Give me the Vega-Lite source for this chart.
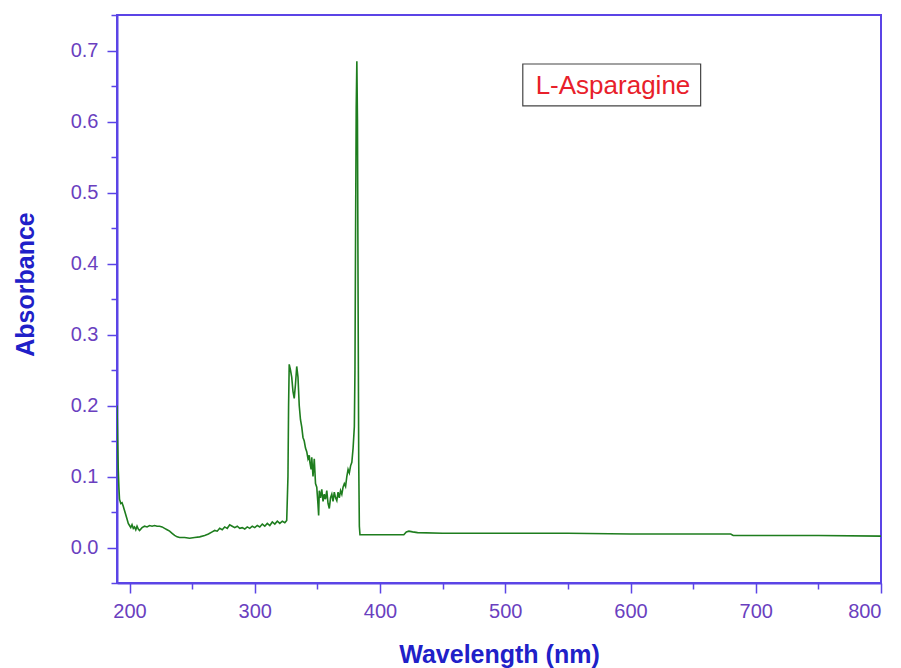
{
  "$schema": "https://vega.github.io/schema/vega-lite/v6.json",
  "autosize": {"type": "none"},
  "padding": {"left": 117, "top": 15, "right": 20, "bottom": 85},
  "width": 764,
  "height": 568,
  "background": "white",
  "config": {
    "view": {"stroke": "#5b44e6", "strokeWidth": 2},
    "font": "Liberation Sans"
  },
  "datasets": {
    "spec": [
      {"wl": 190, "abs": 0.20}, {"wl": 190.5, "abs": 0.15}, {"wl": 191, "abs": 0.11}, {"wl": 191.5, "abs": 0.085},
      {"wl": 192, "abs": 0.068}, {"wl": 193, "abs": 0.062}, {"wl": 194, "abs": 0.063}, {"wl": 195, "abs": 0.058},
      {"wl": 196, "abs": 0.052}, {"wl": 197, "abs": 0.046}, {"wl": 198, "abs": 0.040}, {"wl": 199, "abs": 0.034},
      {"wl": 200, "abs": 0.031}, {"wl": 201, "abs": 0.028}, {"wl": 202, "abs": 0.032}, {"wl": 203, "abs": 0.027},
      {"wl": 204, "abs": 0.029}, {"wl": 205, "abs": 0.025}, {"wl": 206, "abs": 0.030}, {"wl": 207, "abs": 0.026},
      {"wl": 208, "abs": 0.024}, {"wl": 210, "abs": 0.028}, {"wl": 212, "abs": 0.030}, {"wl": 214, "abs": 0.029},
      {"wl": 216, "abs": 0.031}, {"wl": 218, "abs": 0.030}, {"wl": 220, "abs": 0.031}, {"wl": 222, "abs": 0.030},
      {"wl": 224, "abs": 0.030}, {"wl": 226, "abs": 0.029}, {"wl": 228, "abs": 0.027}, {"wl": 230, "abs": 0.025},
      {"wl": 232, "abs": 0.023}, {"wl": 234, "abs": 0.020}, {"wl": 236, "abs": 0.017}, {"wl": 238, "abs": 0.015},
      {"wl": 240, "abs": 0.014}, {"wl": 244, "abs": 0.014}, {"wl": 248, "abs": 0.013}, {"wl": 252, "abs": 0.014},
      {"wl": 256, "abs": 0.015}, {"wl": 260, "abs": 0.017}, {"wl": 263, "abs": 0.019}, {"wl": 266, "abs": 0.022},
      {"wl": 268, "abs": 0.024}, {"wl": 270, "abs": 0.023}, {"wl": 272, "abs": 0.027}, {"wl": 274, "abs": 0.025},
      {"wl": 276, "abs": 0.029}, {"wl": 278, "abs": 0.027}, {"wl": 280, "abs": 0.032}, {"wl": 282, "abs": 0.030},
      {"wl": 284, "abs": 0.028}, {"wl": 286, "abs": 0.030}, {"wl": 288, "abs": 0.027}, {"wl": 290, "abs": 0.028},
      {"wl": 292, "abs": 0.026}, {"wl": 294, "abs": 0.029}, {"wl": 296, "abs": 0.027}, {"wl": 298, "abs": 0.030},
      {"wl": 300, "abs": 0.028}, {"wl": 302, "abs": 0.031}, {"wl": 304, "abs": 0.029}, {"wl": 306, "abs": 0.033},
      {"wl": 308, "abs": 0.030}, {"wl": 310, "abs": 0.034}, {"wl": 312, "abs": 0.031}, {"wl": 314, "abs": 0.036},
      {"wl": 316, "abs": 0.033}, {"wl": 318, "abs": 0.037}, {"wl": 320, "abs": 0.034}, {"wl": 322, "abs": 0.037},
      {"wl": 324, "abs": 0.035}, {"wl": 325.5, "abs": 0.038}, {"wl": 326.5, "abs": 0.10}, {"wl": 327, "abs": 0.20},
      {"wl": 327.5, "abs": 0.258}, {"wl": 328.5, "abs": 0.25}, {"wl": 329.5, "abs": 0.24}, {"wl": 330.5, "abs": 0.22},
      {"wl": 331.5, "abs": 0.21}, {"wl": 332.5, "abs": 0.23}, {"wl": 333.5, "abs": 0.255}, {"wl": 334.5, "abs": 0.24},
      {"wl": 335.5, "abs": 0.20}, {"wl": 336.5, "abs": 0.18}, {"wl": 337.5, "abs": 0.17}, {"wl": 338.5, "abs": 0.155},
      {"wl": 339.5, "abs": 0.15}, {"wl": 340.5, "abs": 0.14}, {"wl": 341.5, "abs": 0.135}, {"wl": 342.5, "abs": 0.125},
      {"wl": 343.5, "abs": 0.13}, {"wl": 344, "abs": 0.12}, {"wl": 345, "abs": 0.11}, {"wl": 345.5, "abs": 0.127},
      {"wl": 346.5, "abs": 0.10}, {"wl": 347.5, "abs": 0.125}, {"wl": 348.5, "abs": 0.09}, {"wl": 349.5, "abs": 0.085},
      {"wl": 350.5, "abs": 0.06}, {"wl": 351, "abs": 0.045}, {"wl": 351.5, "abs": 0.08}, {"wl": 352.5, "abs": 0.07},
      {"wl": 353.5, "abs": 0.082}, {"wl": 354.5, "abs": 0.065}, {"wl": 355.5, "abs": 0.075}, {"wl": 356.5, "abs": 0.068},
      {"wl": 357.5, "abs": 0.08}, {"wl": 358.5, "abs": 0.062}, {"wl": 359.5, "abs": 0.055}, {"wl": 360.5, "abs": 0.07},
      {"wl": 361.5, "abs": 0.075}, {"wl": 362.5, "abs": 0.065}, {"wl": 363.5, "abs": 0.078}, {"wl": 364.5, "abs": 0.07},
      {"wl": 365.5, "abs": 0.066}, {"wl": 366.5, "abs": 0.078}, {"wl": 367.5, "abs": 0.07}, {"wl": 368.5, "abs": 0.08},
      {"wl": 369.5, "abs": 0.075}, {"wl": 370.5, "abs": 0.085}, {"wl": 371.5, "abs": 0.09}, {"wl": 372.5, "abs": 0.086},
      {"wl": 373.5, "abs": 0.10}, {"wl": 374.5, "abs": 0.11}, {"wl": 375.5, "abs": 0.105}, {"wl": 376.5, "abs": 0.115},
      {"wl": 377.5, "abs": 0.12}, {"wl": 378.5, "abs": 0.14}, {"wl": 379.5, "abs": 0.17}, {"wl": 380, "abs": 0.25},
      {"wl": 380.5, "abs": 0.45}, {"wl": 381, "abs": 0.62}, {"wl": 381.5, "abs": 0.685}, {"wl": 382, "abs": 0.60},
      {"wl": 382.5, "abs": 0.35}, {"wl": 383, "abs": 0.12}, {"wl": 383.5, "abs": 0.03}, {"wl": 384, "abs": 0.018},
      {"wl": 390, "abs": 0.018}, {"wl": 400, "abs": 0.018}, {"wl": 410, "abs": 0.018}, {"wl": 419, "abs": 0.018},
      {"wl": 421, "abs": 0.022}, {"wl": 423, "abs": 0.023}, {"wl": 426, "abs": 0.022}, {"wl": 430, "abs": 0.021},
      {"wl": 450, "abs": 0.020}, {"wl": 500, "abs": 0.020}, {"wl": 550, "abs": 0.020}, {"wl": 600, "abs": 0.019},
      {"wl": 650, "abs": 0.019}, {"wl": 680, "abs": 0.019}, {"wl": 682, "abs": 0.017}, {"wl": 700, "abs": 0.017},
      {"wl": 750, "abs": 0.017}, {"wl": 800, "abs": 0.016}
    ],
    "label": [
      {"x1": 514, "x2": 656, "y1": 0.622, "y2": 0.681, "xm": 586, "ym": 0.65, "text": "L-Asparagine"}
    ],
    "minor": [{"wl": 190, "abs": 0}]
  },
  "layer": [
    {
      "data": {"name": "minor"},
      "mark": {"type": "point", "opacity": 0},
      "encoding": {
        "x": {
          "field": "wl", "type": "quantitative",
          "scale": {"domain": [190, 800], "nice": false, "zero": false},
          "axis": {
            "orient": "bottom", "values": [250, 350, 450, 550, 650, 750],
            "labels": false, "title": null, "domain": false, "grid": false,
            "ticks": true, "tickSize": 6, "tickWidth": 1.5, "tickColor": "#5b44e6"
          }
        },
        "y": {
          "field": "abs", "type": "quantitative",
          "scale": {"domain": [-0.05, 0.75], "nice": false, "zero": false},
          "axis": {
            "orient": "left", "values": [-0.05, 0.05, 0.15, 0.25, 0.35, 0.45, 0.55, 0.65, 0.75],
            "labels": false, "title": null, "domain": false, "grid": false,
            "ticks": true, "tickSize": 6, "tickWidth": 1.5, "tickColor": "#5b44e6"
          }
        }
      }
    },
    {
      "data": {"name": "spec"},
      "mark": {"type": "line", "color": "#1e7d1e", "strokeWidth": 1.6, "clip": true},
      "encoding": {
        "x": {
          "field": "wl", "type": "quantitative",
          "scale": {"domain": [190, 800], "nice": false, "zero": false},
          "axis": {
            "orient": "bottom", "values": [200, 300, 400, 500, 600, 700, 800],
            "title": "Wavelength (nm)", "grid": false,
            "domainColor": "#5b44e6", "domainWidth": 2,
            "tickColor": "#5b44e6", "tickWidth": 1.5, "tickSize": 10,
            "labelColor": "#6a3fbf", "labelFontSize": 20, "labelPadding": 8,
            "titleColor": "#2020c8", "titleFontSize": 25, "titleFontWeight": "bold", "titlePadding": 21
          }
        },
        "y": {
          "field": "abs", "type": "quantitative",
          "scale": {"domain": [-0.05, 0.75], "nice": false, "zero": false},
          "axis": {
            "orient": "left", "values": [0, 0.1, 0.2, 0.3, 0.4, 0.5, 0.6, 0.7], "format": ".1f",
            "title": "Absorbance", "grid": false,
            "domainColor": "#5b44e6", "domainWidth": 2,
            "tickColor": "#5b44e6", "tickWidth": 1.5, "tickSize": 10,
            "labelColor": "#6a3fbf", "labelFontSize": 20, "labelPadding": 9,
            "titleColor": "#2020c8", "titleFontSize": 25, "titleFontWeight": "bold", "titlePadding": 32,
            "titleY": 269, "titleAlign": "center"
          }
        }
      }
    },
    {
      "data": {"name": "label"},
      "mark": {"type": "rect", "fill": "white", "stroke": "#444444", "strokeWidth": 1.2},
      "encoding": {
        "x": {"field": "x1", "type": "quantitative", "axis": null},
        "x2": {"field": "x2"},
        "y": {"field": "y1", "type": "quantitative", "axis": null},
        "y2": {"field": "y2"}
      }
    },
    {
      "data": {"name": "label"},
      "mark": {"type": "text", "color": "#e8202a", "fontSize": 26, "align": "center", "baseline": "middle"},
      "encoding": {
        "x": {"field": "xm", "type": "quantitative", "axis": null},
        "y": {"field": "ym", "type": "quantitative", "axis": null},
        "text": {"field": "text"}
      }
    }
  ],
  "resolve": {"axis": {"x": "independent", "y": "independent"}}
}
